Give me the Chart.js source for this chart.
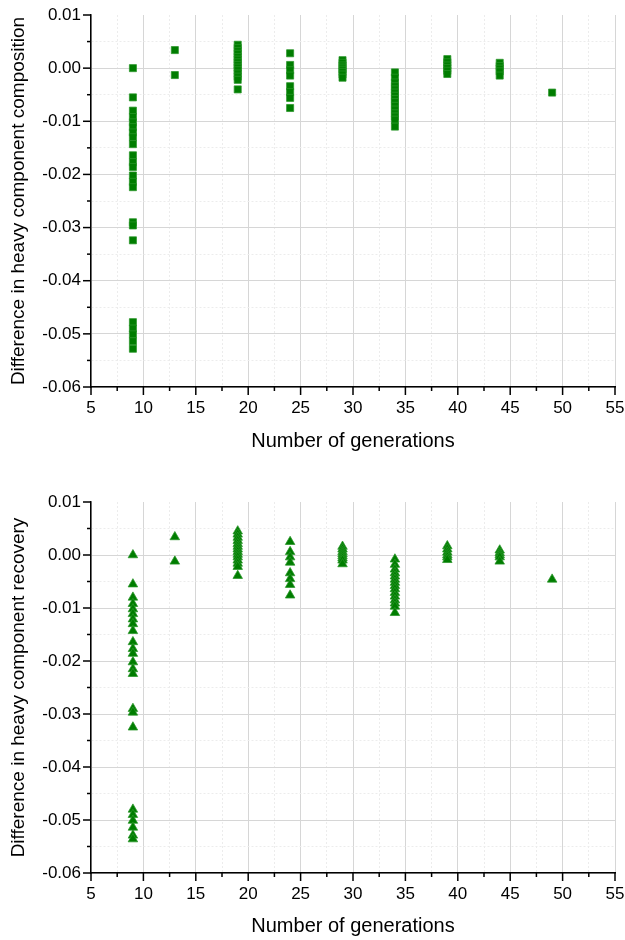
<!DOCTYPE html>
<html lang="en">
<head>
  <meta charset="UTF-8">
  <title>Difference in heavy component vs number of generations</title>
  <script src="https://cdn.jsdelivr.net/npm/chart.js@4"></script>
  <style>
    body {
      margin: 0;
      background: #fff;
    }
    .panel {
      position: relative;
      width: 625px;
      height: 470px;
    }
  </style>
</head>
<body>
  <div class="panel"><canvas id="compositionChart"></canvas></div>
  <div class="panel"><canvas id="recoveryChart"></canvas></div>

  <script>
    // x positions of the point columns
    const generations = [9, 13, 19, 24, 29, 34, 39, 44, 49];

    // difference in heavy component composition, one list per generation column
    const compositionDiff = [
      [0.0000, -0.0055, -0.0080, -0.0092, -0.0102, -0.0111, -0.0121, -0.0130, -0.0143, -0.0164, -0.0177, -0.0186,
       -0.0202, -0.0214, -0.0224, -0.0290, -0.0296, -0.0324, -0.0478, -0.0490, -0.0501, -0.0514, -0.0528],
      [0.0034, -0.0013],
      [0.0044, 0.0038, 0.0032, 0.0027, 0.0021, 0.0016, 0.0011, 0.0006, 0.0001, -0.0004, -0.0010, -0.0016, -0.0022, -0.0040],
      [0.0028, 0.0006, -0.0004, -0.0014, -0.0034, -0.0045, -0.0056, -0.0075],
      [0.0015, 0.0010, 0.0005, 0.0001, -0.0003, -0.0007, -0.0012, -0.0018],
      [-0.0008, -0.0018, -0.0027, -0.0034, -0.0040, -0.0046, -0.0052, -0.0058, -0.0064, -0.0071, -0.0078, -0.0085, -0.0091, -0.0097, -0.0110],
      [0.0017, 0.0011, 0.0005, 0.0000, -0.0005, -0.0011],
      [0.0010, 0.0004, -0.0001, -0.0006, -0.0014],
      [-0.0046]
    ];

    // difference in heavy component recovery
    const recoveryDiff = [
      [0.0000, -0.0055, -0.0080, -0.0092, -0.0102, -0.0111, -0.0121, -0.0130, -0.0143, -0.0164, -0.0177, -0.0186,
       -0.0202, -0.0215, -0.0224, -0.0290, -0.0297, -0.0325, -0.0480, -0.0490, -0.0501, -0.0514, -0.0529, -0.0536],
      [0.0034, -0.0012],
      [0.0045, 0.0039, 0.0033, 0.0027, 0.0021, 0.0016, 0.0011, 0.0006, 0.0001, -0.0004, -0.0010, -0.0016, -0.0022, -0.0039],
      [0.0025, 0.0006, -0.0004, -0.0014, -0.0034, -0.0045, -0.0056, -0.0076],
      [0.0016, 0.0011, 0.0006, 0.0002, -0.0002, -0.0006, -0.0010, -0.0017],
      [-0.0008, -0.0018, -0.0027, -0.0034, -0.0040, -0.0046, -0.0052, -0.0058, -0.0064, -0.0071, -0.0078, -0.0085, -0.0091, -0.0097, -0.0109],
      [0.0017, 0.0011, 0.0005, 0.0000, -0.0004, -0.0009],
      [0.0009, 0.0004, 0.0000, -0.0004, -0.0012],
      [-0.0046]
    ];

    const xMin = 5, xMax = 55, xStep = 2.5;
    const yMin = -0.06, yMax = 0.01, yStep = 0.005;
    const xTitle = 'Number of generations';

    const FONT = '"Liberation Sans", Arial, sans-serif';
    const GREEN = '#007d00';

    const isMajorX = v => Math.round(v * 2) % 10 === 0;
    const isMajorY = v => Math.abs(Math.round(v * 1000)) % 10 === 0;

    function toPoints(lists) {
      const pts = [];
      lists.forEach((vals, i) => vals.forEach(v => pts.push({ x: generations[i], y: v })));
      return pts;
    }

    // outward tick marks, long on labelled ticks, short in between
    const tickMarks = {
      id: 'tickMarks',
      afterDraw(chart) {
        const { ctx, scales: { x, y } } = chart;
        ctx.save();
        ctx.strokeStyle = '#000';
        ctx.lineWidth = 1.5;
        x.ticks.forEach((t, i) => {
          const px = x.getPixelForTick(i);
          const len = isMajorX(t.value) ? 8 : 4;
          ctx.beginPath();
          ctx.moveTo(px, x.top);
          ctx.lineTo(px, x.top + len);
          ctx.stroke();
        });
        y.ticks.forEach((t, i) => {
          const py = y.getPixelForTick(i);
          const len = isMajorY(t.value) ? 8 : 4;
          ctx.beginPath();
          ctx.moveTo(y.right, py);
          ctx.lineTo(y.right - len, py);
          ctx.stroke();
        });
        ctx.restore();
      }
    };

    function makeChart(id, yTitle, lists, pointStyle, box) {
      return new Chart(document.getElementById(id), {
        type: 'scatter',
        data: {
          datasets: [{
            data: toPoints(lists),
            pointStyle: pointStyle,
            pointRadius: box.radius,
            backgroundColor: GREEN,
            borderColor: 'rgba(40,150,40,0.75)',
            borderWidth: 1
          }]
        },
        options: {
          responsive: true,
          maintainAspectRatio: false,
          animation: false,
          layout: { padding: { top: box.top, right: 10, left: 0, bottom: 0 } },
          plugins: { legend: { display: false }, tooltip: { enabled: false } },
          scales: {
            x: {
              type: 'linear',
              min: xMin,
              max: xMax,
              afterFit: s => {
                s.height = box.xHeight;
                s.paddingLeft = 0;
                s.paddingRight = 0;
              },
              ticks: {
                stepSize: xStep,
                autoSkip: false,
                maxRotation: 0,
                padding: 11,
                color: '#000',
                font: { family: FONT, size: 17 },
                callback: v => isMajorX(v) ? String(Math.round(v)) : ''
              },
              grid: {
                drawTicks: false,
                color: c => c.tick && isMajorX(c.tick.value) ? '#d6d6d6' : '#ececec',
                lineWidth: 1
              },
              border: {
                display: true,
                color: '#000',
                width: 1.5,
                dash: c => c.tick && !isMajorX(c.tick.value) ? [2, 2] : []
              },
              title: {
                display: true,
                text: xTitle,
                color: '#000',
                font: { family: FONT, size: 20 },
                padding: { top: 0, bottom: box.xTitlePad }
              }
            },
            y: {
              type: 'linear',
              min: yMin,
              max: yMax,
              afterFit: s => {
                s.width = 91;
                s.paddingTop = 0;
                s.paddingBottom = 0;
              },
              ticks: {
                stepSize: yStep,
                autoSkip: false,
                padding: 10,
                color: '#000',
                font: { family: FONT, size: 17 },
                callback: v => isMajorY(v) ? (Math.round(v * 100) / 100).toFixed(2) : ''
              },
              grid: {
                drawTicks: false,
                color: c => {
                  if (!c.tick) return '#d6d6d6';
                  if (Math.abs(c.tick.value - yMax) < 1e-9) return 'rgba(0,0,0,0)';
                  return isMajorY(c.tick.value) ? '#d6d6d6' : '#ececec';
                },
                lineWidth: 1
              },
              border: {
                display: true,
                color: '#000',
                width: 1.5,
                dash: c => c.tick && !isMajorY(c.tick.value) ? [2, 2] : []
              },
              title: {
                display: true,
                text: yTitle,
                color: '#000',
                font: { family: FONT, size: 19 },
                padding: { top: 7, bottom: 0 }
              }
            }
          }
        },
        plugins: [tickMarks]
      });
    }

    makeChart('compositionChart', 'Difference in heavy component composition', compositionDiff, 'rect',
      { top: 15, xHeight: 83, xTitlePad: 17, radius: 5 });
    makeChart('recoveryChart', 'Difference in heavy component recovery', recoveryDiff, 'triangle',
      { top: 32, xHeight: 67, xTitlePad: 2, radius: 5.5 });
  </script>
</body>
</html>
